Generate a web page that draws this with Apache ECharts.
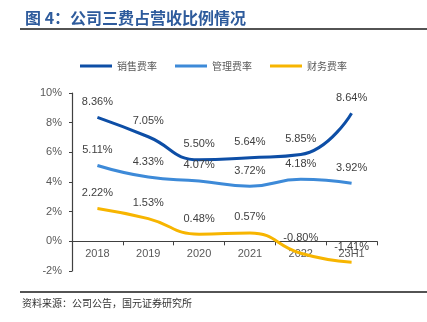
<!DOCTYPE html>
<html>
<head>
<meta charset="utf-8">
<script src="https://cdn.jsdelivr.net/npm/echarts@6/dist/echarts.min.js"></script>
<style>
  html, body { margin: 0; padding: 0; background: #fff; }
  #chart { width: 427px; height: 322px; }
</style>
</head>
<body>
<div id="chart"></div>
<script>
// Expense ratios as a share of revenue (%)
const categories = ['2018', '2019', '2020', '2021', '2022', '23H1'];
const sellingRate = [8.36, 7.05, 5.50, 5.64, 5.85, 8.64];
const adminRate = [5.11, 4.33, 4.07, 3.72, 4.18, 3.92];
const financeRate = [2.22, 1.53, 0.48, 0.57, -0.80, -1.41];
const seriesNames = ['销售费率', '管理费率', '财务费率'];
const yTicks = { min: -2, max: 10, interval: 2 };

const colors = ['#0d4ea6', '#3d8ad8', '#f7b500'];
const cjk = '"Noto Sans CJK SC", "Liberation Sans", sans-serif';
const latin = '"Liberation Sans", Arial, sans-serif';

function makeSeries(name, data, color) {
  return {
    name: name,
    type: 'line',
    smooth: true,
    data: data,
    symbol: 'circle',
    symbolSize: 0,
    showSymbol: true,
    lineStyle: { width: 3, color: color },
    itemStyle: { color: color },
    label: {
      show: true,
      position: 'top',
      distance: 10,
      color: '#404040',
      fontFamily: latin,
      fontSize: 11,
      formatter: p => p.value.toFixed(2) + '%'
    },
    labelLayout: { hideOverlap: false },
    z: 3
  };
}

const chart = echarts.init(document.getElementById('chart'), null, { renderer: 'canvas' });
chart.setOption({
  backgroundColor: '#ffffff',
  animation: false,
  title: {
    text: '图 4：公司三费占营收比例情况',
    left: 20,
    top: 5,
    textStyle: {
      color: '#2e5b9c',
      fontFamily: cjk,
      fontSize: 16,
      fontWeight: 'bold'
    }
  },
  graphic: [
    { type: 'line', shape: { x1: 20, y1: 29, x2: 427, y2: 29 }, style: { stroke: '#1a1a1a', lineWidth: 1.5 } },
    { type: 'line', shape: { x1: 20, y1: 292, x2: 427, y2: 292 }, style: { stroke: '#1a1a1a', lineWidth: 1.5 } },
    {
      type: 'text', left: 22, top: 298,
      style: { text: '资料来源：公司公告，国元证券研究所', fill: '#333333', font: '10px ' + cjk }
    }
  ],
  legend: {
    data: seriesNames,
    top: 56,
    left: 'center',
    itemWidth: 32,
    itemHeight: 3,
    itemGap: 18,
    icon: 'rect',
    textStyle: { color: '#595959', fontFamily: cjk, fontSize: 10 }
  },
  grid: { left: 72, right: 50, top: 93, bottom: 51, containLabel: false },
  xAxis: {
    type: 'category',
    data: categories,
    boundaryGap: true,
    axisLine: { onZero: true, lineStyle: { color: '#404040', width: 1.2 } },
    axisTick: { show: true, inside: false, length: 4, lineStyle: { color: '#404040' } },
    // labels sit just under the zero line
    axisLabel: { color: '#595959', fontFamily: latin, fontSize: 11, margin: -23 },
    splitLine: { show: false }
  },
  yAxis: {
    type: 'value',
    min: yTicks.min,
    max: yTicks.max,
    interval: yTicks.interval,
    axisLine: { show: true, lineStyle: { color: '#404040', width: 1.2 } },
    axisTick: { show: true, length: 3, lineStyle: { color: '#404040' } },
    axisLabel: { color: '#595959', fontFamily: latin, fontSize: 11, margin: 10, formatter: v => v + '%' },
    splitLine: { show: false }
  },
  series: [
    makeSeries(seriesNames[0], sellingRate, colors[0]),
    makeSeries(seriesNames[1], adminRate, colors[1]),
    makeSeries(seriesNames[2], financeRate, colors[2])
  ]
});
</script>
</body>
</html>
